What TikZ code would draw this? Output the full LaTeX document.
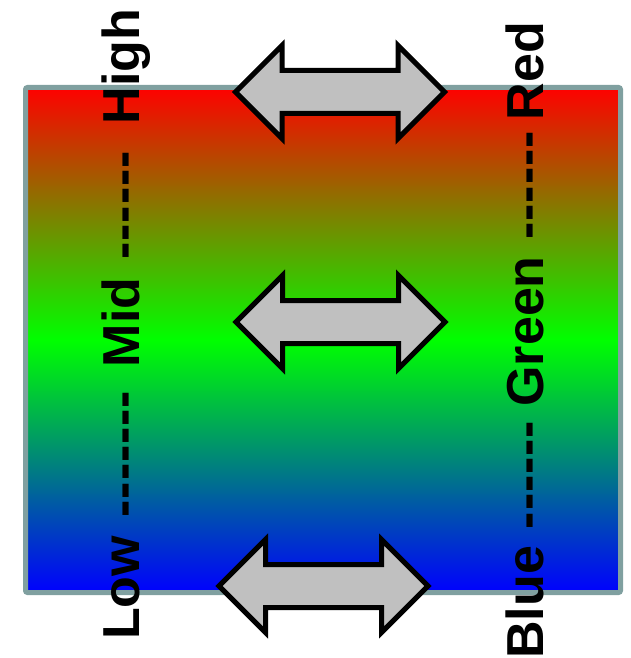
\documentclass[tikz,border=0pt]{standalone}
\usepackage{fontspec}
\newfontfamily\lblfont{Liberation Sans}
\definecolor{frameedge}{RGB}{128,160,160}
\definecolor{arrowfill}{RGB}{192,192,192}
% one hyphen of a dashed run, kerned so that runs never become ligatures
\newcommand\hy{-\kern0.9bp\relax}
\tikzset{
  lbl/.style={inner sep=0pt, rotate=90, anchor=base west,
    font=\lblfont\bfseries\fontsize{52bp}{60bp}\selectfont},
  arrowline/.style={draw=black, line width=5bp, fill=arrowfill, line join=miter},
  dblarrow/.pic={
    \path[arrowline] (-104.5,0) -- (-58,46.5) -- (-58,21.5) -- (58,21.5)
      -- (58,46.5) -- (104.5,0) -- (58,-46.5) -- (58,-21.5) -- (-58,-21.5)
      -- (-58,-46.5) -- cycle;
  }
}
\begin{document}
\begin{tikzpicture}[x=1bp, y=-1bp]
\useasboundingbox (0,0) rectangle (631,658);
% colour scale panel: red at the top, green in the middle, blue at the bottom
\shade[top color=red, bottom color=blue, middle color=green]
  (25.5,87.5) rectangle (620.5,592.5);
\draw[frameedge, line width=5bp, rounded corners=2bp]
  (25.5,87.5) rectangle (620.5,592.5);
% scale labels
\node[lbl] (levels) at (139,640)
  {Low\hspace{18.5bp}\hy\hy\hy\hy\hy\hy\hy\hspace{22.8bp}Mid\hspace{17.9bp}\hy\hy\hy\hy\hy\hy\hspace{25.8bp}High};
\node[lbl] (colours) at (543,658.8)
  {Blue\hspace{16.8bp}\hy\hy\hy\hy\hy\hy\hspace{13.3bp}Green\hspace{16.7bp}\hy\hy\hy\hy\hy\hy\hspace{9.8bp}Red};
% correspondence arrows
\pic at (340,92) {dblarrow};
\pic at (340.5,322) {dblarrow};
\pic at (323.5,586) {dblarrow};
\end{tikzpicture}
\end{document}
